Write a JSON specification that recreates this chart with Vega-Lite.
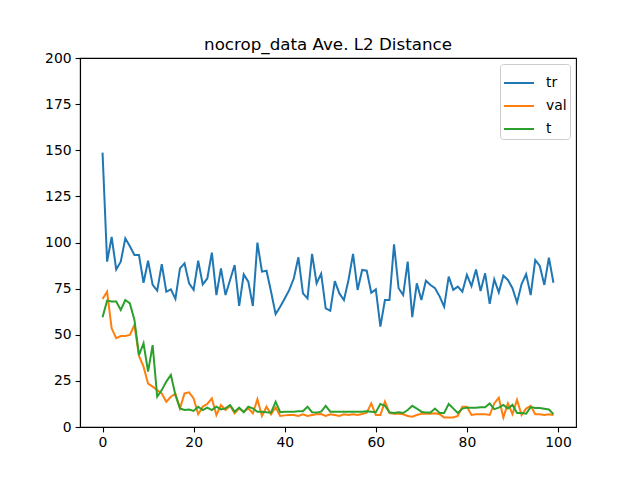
{
  "$schema": "https://vega.github.io/schema/vega-lite/v6.json",
  "width": 496,
  "height": 369,
  "autosize": {"type": "none"},
  "padding": {"left": 80, "top": 58, "right": 64, "bottom": 53},
  "background": "white",
  "title": {"text": "nocrop_data Ave. L2 Distance", "font": "DejaVu Sans", "fontSize": 16.7, "fontWeight": "normal", "color": "black", "anchor": "middle", "offset": -3},
  "config": {
    "view": {"stroke": "black", "strokeWidth": 1.1},
    "axis": {"domainColor": "black", "domainWidth": 1.1, "tickColor": "black", "tickWidth": 1.1, "tickSize": 4.9, "labelFont": "DejaVu Sans", "labelFontSize": 13.9, "labelColor": "black", "labelPadding": 4, "grid": false, "title": null}
  },
  "data": {"values": [
    {"x":0,"s":"tr","v":148.7},{"x":1,"s":"tr","v":89.6},{"x":2,"s":"tr","v":103},{"x":3,"s":"tr","v":85.4},{"x":4,"s":"tr","v":89.6},{"x":5,"s":"tr","v":102.3},{"x":6,"s":"tr","v":98},{"x":7,"s":"tr","v":93.2},{"x":8,"s":"tr","v":93.2},{"x":9,"s":"tr","v":78.2},
    {"x":10,"s":"tr","v":90.1},{"x":11,"s":"tr","v":77},{"x":12,"s":"tr","v":73.9},{"x":13,"s":"tr","v":88.3},{"x":14,"s":"tr","v":73.3},{"x":15,"s":"tr","v":74.6},{"x":16,"s":"tr","v":69.4},{"x":17,"s":"tr","v":86},{"x":18,"s":"tr","v":88.7},{"x":19,"s":"tr","v":77.9},
    {"x":20,"s":"tr","v":74.3},{"x":21,"s":"tr","v":90.1},{"x":22,"s":"tr","v":77.3},{"x":23,"s":"tr","v":80.5},{"x":24,"s":"tr","v":94.5},{"x":25,"s":"tr","v":71.5},{"x":26,"s":"tr","v":86},{"x":27,"s":"tr","v":71.5},{"x":28,"s":"tr","v":79.7},{"x":29,"s":"tr","v":87.8},
    {"x":30,"s":"tr","v":65.6},{"x":31,"s":"tr","v":82.7},{"x":32,"s":"tr","v":78.8},{"x":33,"s":"tr","v":65.6},{"x":34,"s":"tr","v":99.9},{"x":35,"s":"tr","v":84.2},{"x":36,"s":"tr","v":84.7},{"x":37,"s":"tr","v":73.3},{"x":38,"s":"tr","v":61.2},{"x":39,"s":"tr","v":65.2},
    {"x":40,"s":"tr","v":69.7},{"x":41,"s":"tr","v":74.3},{"x":42,"s":"tr","v":80.6},{"x":43,"s":"tr","v":92},{"x":44,"s":"tr","v":72.4},{"x":45,"s":"tr","v":69.7},{"x":46,"s":"tr","v":93.8},{"x":47,"s":"tr","v":77.9},{"x":48,"s":"tr","v":83.1},{"x":49,"s":"tr","v":64.3},
    {"x":50,"s":"tr","v":63},{"x":51,"s":"tr","v":79.1},{"x":52,"s":"tr","v":72.4},{"x":53,"s":"tr","v":68.8},{"x":54,"s":"tr","v":79.7},{"x":55,"s":"tr","v":93.8},{"x":56,"s":"tr","v":74.3},{"x":57,"s":"tr","v":85.1},{"x":58,"s":"tr","v":84.7},{"x":59,"s":"tr","v":72.8},
    {"x":60,"s":"tr","v":74.6},{"x":61,"s":"tr","v":54.4},{"x":62,"s":"tr","v":68.8},{"x":63,"s":"tr","v":68.8},{"x":64,"s":"tr","v":99},{"x":65,"s":"tr","v":75.2},{"x":66,"s":"tr","v":71.5},{"x":67,"s":"tr","v":89.6},{"x":68,"s":"tr","v":59.5},{"x":69,"s":"tr","v":77.9},
    {"x":70,"s":"tr","v":68.8},{"x":71,"s":"tr","v":79.3},{"x":72,"s":"tr","v":77},{"x":73,"s":"tr","v":75.2},{"x":74,"s":"tr","v":70.8},{"x":75,"s":"tr","v":65.2},{"x":76,"s":"tr","v":81.5},{"x":77,"s":"tr","v":74.3},{"x":78,"s":"tr","v":76.1},{"x":79,"s":"tr","v":73.3},
    {"x":80,"s":"tr","v":82.4},{"x":81,"s":"tr","v":76.4},{"x":82,"s":"tr","v":85.4},{"x":83,"s":"tr","v":73.7},{"x":84,"s":"tr","v":83.3},{"x":85,"s":"tr","v":66.7},{"x":86,"s":"tr","v":80},{"x":87,"s":"tr","v":73},{"x":88,"s":"tr","v":82},{"x":89,"s":"tr","v":79.7},
    {"x":90,"s":"tr","v":75.2},{"x":91,"s":"tr","v":67.4},{"x":92,"s":"tr","v":77.5},{"x":93,"s":"tr","v":82.9},{"x":94,"s":"tr","v":71.5},{"x":95,"s":"tr","v":90.5},{"x":96,"s":"tr","v":87.3},{"x":97,"s":"tr","v":77},{"x":98,"s":"tr","v":91.8},{"x":99,"s":"tr","v":78.2},

    {"x":0,"s":"val","v":69.4},{"x":1,"s":"val","v":73.3},{"x":2,"s":"val","v":53.5},{"x":3,"s":"val","v":48.1},{"x":4,"s":"val","v":49.3},{"x":5,"s":"val","v":49.3},{"x":6,"s":"val","v":49.9},{"x":7,"s":"val","v":55.3},{"x":8,"s":"val","v":38.5},{"x":9,"s":"val","v":32.7},
    {"x":10,"s":"val","v":23.5},{"x":11,"s":"val","v":21.9},{"x":12,"s":"val","v":20},{"x":13,"s":"val","v":18.2},{"x":14,"s":"val","v":13.7},{"x":15,"s":"val","v":16.4},{"x":16,"s":"val","v":18},{"x":17,"s":"val","v":10.1},{"x":18,"s":"val","v":18.2},{"x":19,"s":"val","v":18.8},
    {"x":20,"s":"val","v":15.5},{"x":21,"s":"val","v":6.9},{"x":22,"s":"val","v":11},{"x":23,"s":"val","v":12.5},{"x":24,"s":"val","v":15.5},{"x":25,"s":"val","v":6.5},{"x":26,"s":"val","v":11.9},{"x":27,"s":"val","v":9.2},{"x":28,"s":"val","v":11.5},{"x":29,"s":"val","v":7.4},
    {"x":30,"s":"val","v":10.1},{"x":31,"s":"val","v":8.3},{"x":32,"s":"val","v":10.1},{"x":33,"s":"val","v":7.4},{"x":34,"s":"val","v":15},{"x":35,"s":"val","v":6},{"x":36,"s":"val","v":11},{"x":37,"s":"val","v":6.9},{"x":38,"s":"val","v":10.7},{"x":39,"s":"val","v":6},
    {"x":40,"s":"val","v":6.3},{"x":41,"s":"val","v":6.5},{"x":42,"s":"val","v":6.5},{"x":43,"s":"val","v":6},{"x":44,"s":"val","v":6.9},{"x":45,"s":"val","v":6},{"x":46,"s":"val","v":6.5},{"x":47,"s":"val","v":6.9},{"x":48,"s":"val","v":7},{"x":49,"s":"val","v":6},
    {"x":50,"s":"val","v":6.9},{"x":51,"s":"val","v":6.5},{"x":52,"s":"val","v":6},{"x":53,"s":"val","v":6.9},{"x":54,"s":"val","v":6.5},{"x":55,"s":"val","v":6.9},{"x":56,"s":"val","v":6.5},{"x":57,"s":"val","v":7},{"x":58,"s":"val","v":7.8},{"x":59,"s":"val","v":12.8},
    {"x":60,"s":"val","v":6.5},{"x":61,"s":"val","v":6.5},{"x":62,"s":"val","v":13.7},{"x":63,"s":"val","v":7.6},{"x":64,"s":"val","v":7.2},{"x":65,"s":"val","v":7.2},{"x":66,"s":"val","v":6.9},{"x":67,"s":"val","v":6},{"x":68,"s":"val","v":5.6},{"x":69,"s":"val","v":6.5},
    {"x":70,"s":"val","v":7.2},{"x":71,"s":"val","v":7.2},{"x":72,"s":"val","v":7.2},{"x":73,"s":"val","v":7.4},{"x":74,"s":"val","v":6.9},{"x":75,"s":"val","v":5.2},{"x":76,"s":"val","v":5.2},{"x":77,"s":"val","v":5.2},{"x":78,"s":"val","v":6},{"x":79,"s":"val","v":11},
    {"x":80,"s":"val","v":11},{"x":81,"s":"val","v":6.5},{"x":82,"s":"val","v":6.9},{"x":83,"s":"val","v":6.9},{"x":84,"s":"val","v":6.9},{"x":85,"s":"val","v":6.5},{"x":86,"s":"val","v":12.8},{"x":87,"s":"val","v":15.9},{"x":88,"s":"val","v":5.2},{"x":89,"s":"val","v":12.8},
    {"x":90,"s":"val","v":7},{"x":91,"s":"val","v":14.7},{"x":92,"s":"val","v":6.5},{"x":93,"s":"val","v":10},{"x":94,"s":"val","v":11.5},{"x":95,"s":"val","v":6.9},{"x":96,"s":"val","v":6.9},{"x":97,"s":"val","v":6.5},{"x":98,"s":"val","v":6.9},{"x":99,"s":"val","v":6.5},

    {"x":0,"s":"t","v":59.5},{"x":1,"s":"t","v":68.5},{"x":2,"s":"t","v":68},{"x":3,"s":"t","v":68},{"x":4,"s":"t","v":63.4},{"x":5,"s":"t","v":68.8},{"x":6,"s":"t","v":67},{"x":7,"s":"t","v":58},{"x":8,"s":"t","v":39},{"x":9,"s":"t","v":45.4},
    {"x":10,"s":"t","v":30},{"x":11,"s":"t","v":44.4},{"x":12,"s":"t","v":16.4},{"x":13,"s":"t","v":20},{"x":14,"s":"t","v":24.6},{"x":15,"s":"t","v":28.2},{"x":16,"s":"t","v":17.3},{"x":17,"s":"t","v":10.1},{"x":18,"s":"t","v":9.2},{"x":19,"s":"t","v":9.5},
    {"x":20,"s":"t","v":8.7},{"x":21,"s":"t","v":11},{"x":22,"s":"t","v":9.2},{"x":23,"s":"t","v":10.5},{"x":24,"s":"t","v":9.2},{"x":25,"s":"t","v":11},{"x":26,"s":"t","v":9.5},{"x":27,"s":"t","v":10.1},{"x":28,"s":"t","v":11.9},{"x":29,"s":"t","v":8.3},
    {"x":30,"s":"t","v":10.5},{"x":31,"s":"t","v":8},{"x":32,"s":"t","v":11},{"x":33,"s":"t","v":10.1},{"x":34,"s":"t","v":8.3},{"x":35,"s":"t","v":8.3},{"x":36,"s":"t","v":8},{"x":37,"s":"t","v":7.8},{"x":38,"s":"t","v":13.7},{"x":39,"s":"t","v":8},
    {"x":40,"s":"t","v":8.3},{"x":41,"s":"t","v":8.3},{"x":42,"s":"t","v":8.3},{"x":43,"s":"t","v":8.5},{"x":44,"s":"t","v":8.5},{"x":45,"s":"t","v":11},{"x":46,"s":"t","v":8},{"x":47,"s":"t","v":7.8},{"x":48,"s":"t","v":8.3},{"x":49,"s":"t","v":11.4},
    {"x":50,"s":"t","v":8.3},{"x":51,"s":"t","v":8.3},{"x":52,"s":"t","v":8.3},{"x":53,"s":"t","v":8.3},{"x":54,"s":"t","v":8.3},{"x":55,"s":"t","v":8.3},{"x":56,"s":"t","v":8.3},{"x":57,"s":"t","v":8.3},{"x":58,"s":"t","v":8.5},{"x":59,"s":"t","v":8.3},
    {"x":60,"s":"t","v":8},{"x":61,"s":"t","v":12.5},{"x":62,"s":"t","v":11.5},{"x":63,"s":"t","v":8},{"x":64,"s":"t","v":7.6},{"x":65,"s":"t","v":8},{"x":66,"s":"t","v":7.6},{"x":67,"s":"t","v":9.2},{"x":68,"s":"t","v":11.5},{"x":69,"s":"t","v":10},
    {"x":70,"s":"t","v":8.3},{"x":71,"s":"t","v":7.8},{"x":72,"s":"t","v":7.8},{"x":73,"s":"t","v":10},{"x":74,"s":"t","v":7.6},{"x":75,"s":"t","v":7.6},{"x":76,"s":"t","v":12.5},{"x":77,"s":"t","v":10.1},{"x":78,"s":"t","v":7.6},{"x":79,"s":"t","v":10},
    {"x":80,"s":"t","v":10.5},{"x":81,"s":"t","v":10.5},{"x":82,"s":"t","v":10.5},{"x":83,"s":"t","v":10.7},{"x":84,"s":"t","v":10.7},{"x":85,"s":"t","v":12.8},{"x":86,"s":"t","v":9.7},{"x":87,"s":"t","v":10.5},{"x":88,"s":"t","v":12},{"x":89,"s":"t","v":10},
    {"x":90,"s":"t","v":12},{"x":91,"s":"t","v":7.6},{"x":92,"s":"t","v":7.6},{"x":93,"s":"t","v":7.2},{"x":94,"s":"t","v":10.8},{"x":95,"s":"t","v":10.3},{"x":96,"s":"t","v":10.3},{"x":97,"s":"t","v":9.9},{"x":98,"s":"t","v":9.5},{"x":99,"s":"t","v":7}
  ]},
  "mark": {"type": "line", "strokeWidth": 2},
  "encoding": {
    "x": {"field": "x", "type": "quantitative", "scale": {"domain": [-4.95, 103.95], "nice": false, "zero": false}, "axis": {"values": [0, 20, 40, 60, 80, 100]}},
    "y": {"field": "v", "type": "quantitative", "scale": {"domain": [0, 200], "nice": false}, "axis": {"values": [0, 25, 50, 75, 100, 125, 150, 175, 200]}},
    "color": {"field": "s", "type": "nominal", "scale": {"domain": ["tr", "val", "t"], "range": ["#1f77b4", "#ff7f0e", "#2ca02c"]},
      "legend": {"title": null, "orient": "top-right", "offset": 6, "symbolType": "M-1,0L1,0", "symbolSize": 900, "symbolStrokeWidth": 2, "labelFont": "DejaVu Sans", "labelFontSize": 13.9, "labelColor": "black", "labelOffset": 11, "rowPadding": -6, "padding": 3, "strokeColor": "#cccccc", "fillColor": "white", "cornerRadius": 3}}
  }
}
